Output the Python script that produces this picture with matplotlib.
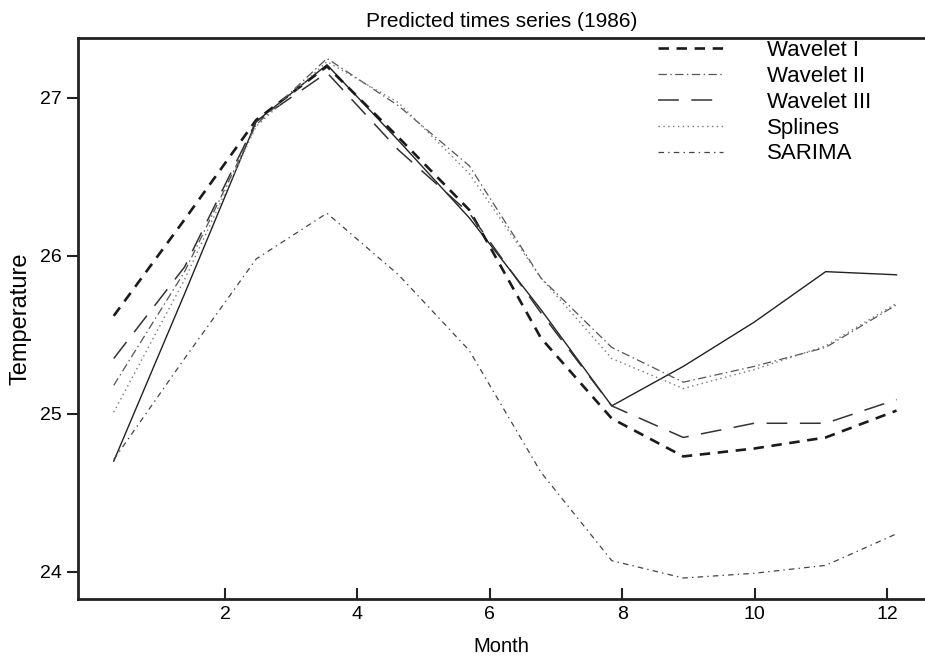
import matplotlib
matplotlib.use("Agg")
import matplotlib.pyplot as plt

plt.rcParams['font.family'] = ['Liberation Sans', 'DejaVu Sans']
plt.rcParams['lines.scale_dashes'] = False

# months at which the series were drawn
month = [0.32, 1.39, 2.47, 3.54, 4.62, 5.69, 6.77, 7.84, 8.92, 9.99, 11.07, 12.14]

observed = [24.70, 25.76, 26.85, 27.21, 26.73, 26.24, 25.66, 25.05, 25.30, 25.58, 25.90, 25.88]
wavelet1 = [25.62, 26.23, 26.86, 27.20, 26.75, 26.29, 25.48, 24.97, 24.73, 24.78, 24.85, 25.02]
wavelet2 = [25.18, 25.90, 26.83, 27.25, 26.95, 26.57, 25.86, 25.42, 25.20, 25.30, 25.42, 25.69]
wavelet3 = [25.35, 25.93, 26.85, 27.16, 26.67, 26.27, 25.64, 25.05, 24.85, 24.94, 24.94, 25.09]
splines = [25.01, 25.85, 26.82, 27.23, 26.97, 26.52, 25.86, 25.35, 25.16, 25.28, 25.43, 25.70]
sarima = [24.71, 25.35, 25.98, 26.27, 25.88, 25.40, 24.63, 24.07, 23.96, 23.99, 24.04, 24.24]

xticks = [2, 4, 6, 8, 10, 12]
yticks = [24, 25, 26, 27]

fig = plt.figure(figsize=(9.25, 6.59), dpi=100)
ax = fig.add_axes([0.0843, 0.091, 0.9157, 0.851])

ax.plot(month, observed, color='#222222', lw=1.0)
ax.plot(month, wavelet1, color='#1a1a1a', lw=1.9, dashes=(7.5, 5.5), label='Wavelet I')
ax.plot(month, wavelet2, color='#555555', lw=0.9, dashes=(6, 2.5, 1, 2.5), label='Wavelet II')
ax.plot(month, wavelet3, color='#333333', lw=1.1, dashes=(15, 9), label='Wavelet III')
ax.plot(month, splines, color='#777777', lw=1.0, dashes=(1, 2.5), label='Splines')
ax.plot(month, sarima, color='#444444', lw=0.9, dashes=(4, 3, 1, 3), label='SARIMA')

ax.set_xlim(-0.22, 12.57)
ax.set_ylim(23.827, 27.378)
ax.set_xticks(xticks)
ax.set_yticks(yticks)
ax.tick_params(axis='x', direction='in', length=8, width=1.5, labelsize=14, pad=5, color='#222222')
ax.tick_params(axis='y', direction='out', length=8, width=1.5, labelsize=14, color='#222222')
for s in ['left', 'top', 'bottom']:
    ax.spines[s].set_linewidth(2)
    ax.spines[s].set_color('#222222')
ax.spines['right'].set_visible(False)

ax.set_title('Predicted times series (1986)', fontsize=15, pad=8)
ax.set_xlabel('Month', fontsize=14.5, labelpad=10)
ax.set_ylabel('Temperature', fontsize=17, labelpad=6)

ax.legend(loc='upper left', bbox_to_anchor=(0.685, 0.997), frameon=False, fontsize=16,
          handlelength=2.9, handletextpad=2.0, labelspacing=0.22, borderpad=0, borderaxespad=0)

fig.savefig('out.png', dpi=100)
